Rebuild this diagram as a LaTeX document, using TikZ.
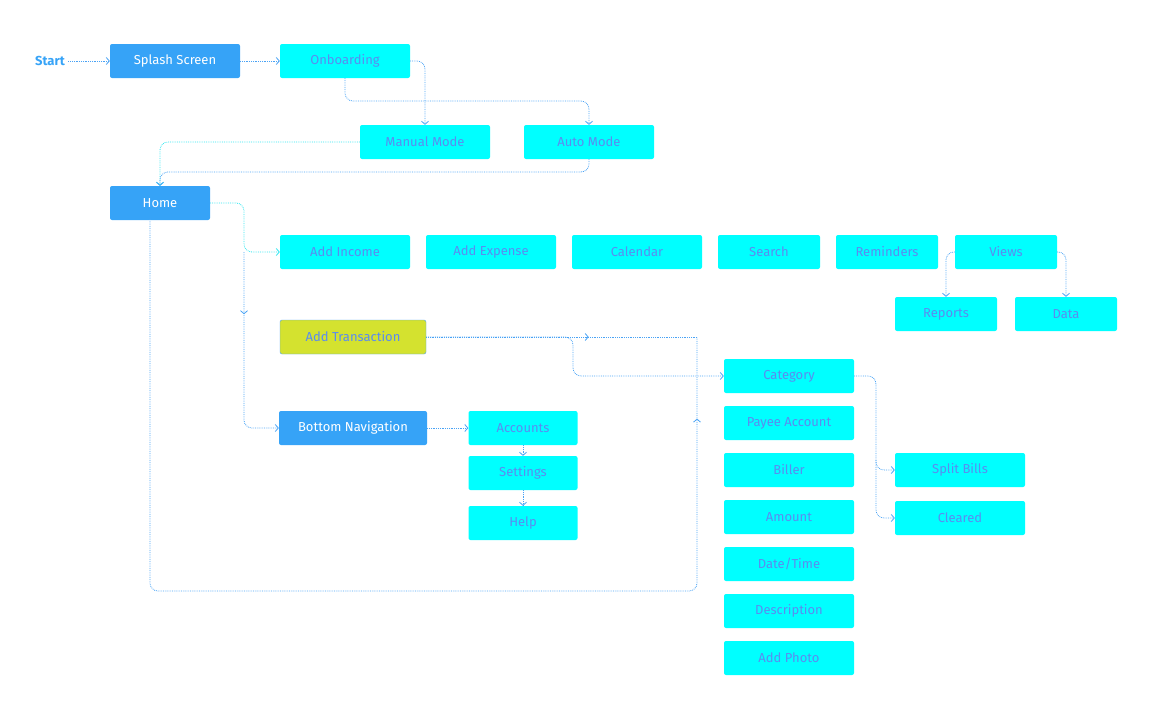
\documentclass[tikz,border=0pt]{standalone}
\usepackage{fontspec}
\setmainfont{Fira Sans}
\usetikzlibrary{positioning, arrows.meta, calc, decorations.markings}
\definecolor{navblue}{HTML}{36A3F7}
\definecolor{screencyan}{HTML}{00FFFF}
\definecolor{labelblue}{HTML}{5A8CF0}
\definecolor{flowblue}{HTML}{4AA3F5}
\definecolor{flowcyan}{HTML}{30E6F0}
\definecolor{actionlime}{HTML}{D4E22F}

\begin{document}
\begin{tikzpicture}[x=1pt, y=-1pt,
        font=\fontsize{13}{15}\selectfont,
        screen/.style={rectangle, fill=screencyan, text=labelblue, rounded corners=2pt, minimum height=34pt, minimum width=130pt, inner sep=0pt},
        navbox/.style={screen, fill=navblue, text=white},
        small/.style={minimum width=102pt},
        flow/.style={draw=flowblue, densely dotted, thick, rounded corners=8pt, -{Straight Barb[length=3pt,width=7pt]}},
        plain/.style={draw=flowblue, densely dotted, thick, rounded corners=8pt},
        midtip/.style={postaction={decorate}, decoration={markings, mark=at position #1 with {\arrow{Straight Barb[length=3pt,width=7pt]}}}}
    ]
        \useasboundingbox (0,0) rectangle (1152,720);

        % Entry
        \node[text=navblue, font=\fontsize{13}{15}\selectfont\bfseries] (start) at (50,61) {Start};
        \node[navbox] (splash) at (175,61) {Splash Screen};
        \node[screen] (onboard) at (345,61) {Onboarding};
        \node[screen] (manual) at (425,142) {Manual Mode};
        \node[screen] (auto) at (589,142) {Auto Mode};
        \node[navbox, minimum width=100pt] (home) at (160,203) {Home};

        % Home actions
        \node[screen] (income) at (345,252) {Add Income};
        \node[screen] (expense) at (491,252) {Add Expense};
        \node[screen] (calendar) at (637,252) {Calendar};
        \node[screen, small] (search) at (769,252) {Search};
        \node[screen, small] (remind) at (887,252) {Reminders};
        \node[screen, small] (views) at (1006,252) {Views};
        \node[screen, small] (reports) at (946,314) {Reports};
        \node[screen, small] (data) at (1066,314) {Data};

        % Transaction
        \node[screen, fill=actionlime, draw=flowblue, minimum width=146pt] (addtx) at (353,337) {Add Transaction};
        \node[screen] (category) at (789,376) {Category};
        \node[screen] (payee) at (789,423) {Payee Account};
        \node[screen] (biller) at (789,470) {Biller};
        \node[screen] (amount) at (789,517) {Amount};
        \node[screen] (datetime) at (789,564) {Date/Time};
        \node[screen] (descr) at (789,611) {Description};
        \node[screen] (photo) at (789,658) {Add Photo};
        \node[screen] (split) at (960,470) {Split Bills};
        \node[screen] (cleared) at (960,518) {Cleared};

        % Bottom navigation
        \node[navbox, minimum width=148pt] (bottomnav) at (353,428) {Bottom Navigation};
        \node[screen, minimum width=109pt] (accounts) at (523,428) {Accounts};
        \node[screen, minimum width=109pt] (settings) at (523,473) {Settings};
        \node[screen, minimum width=109pt] (help) at (523,523) {Help};

        \coordinate (loop) at (697,337);

        % Flows
        \draw[flow] (start) -- (splash);
        \draw[flow] (splash) -- (onboard);
        \draw[flow] (onboard.east) -| (manual.north);
        \draw[flow] (onboard.south) |- (467,101) -| (auto.north);
        \draw[flow, draw=flowcyan] (manual.west) -| (home.north);
        \draw[flow] (auto.south) |- (300,172) -| (home.north);
        \draw[flow, draw=flowcyan] (home.east) -| (244,252) -- (income.west);
        \draw[flow, midtip=0.3] (244,252) |- (bottomnav.west);
        \draw[plain, midtip=0.93] (150,219) |- (697,591) -- (loop);
        \draw[plain, midtip=0.6] (addtx.east) -- (loop);
        \draw[flow] (addtx.east) -| (573,376) -- (category.west);
        \draw[flow] (category.east) -| (876,470) -- (split.west);
        \draw[flow] (876,460) |- (cleared.west);
        \draw[flow] (views.west) -| (reports.north);
        \draw[flow] (views.east) -| (data.north);
        \draw[flow] (bottomnav) -- (accounts);
        \draw[flow] (accounts) -- (settings);
        \draw[flow] (settings) -- (help);
\end{tikzpicture}
\end{document}
